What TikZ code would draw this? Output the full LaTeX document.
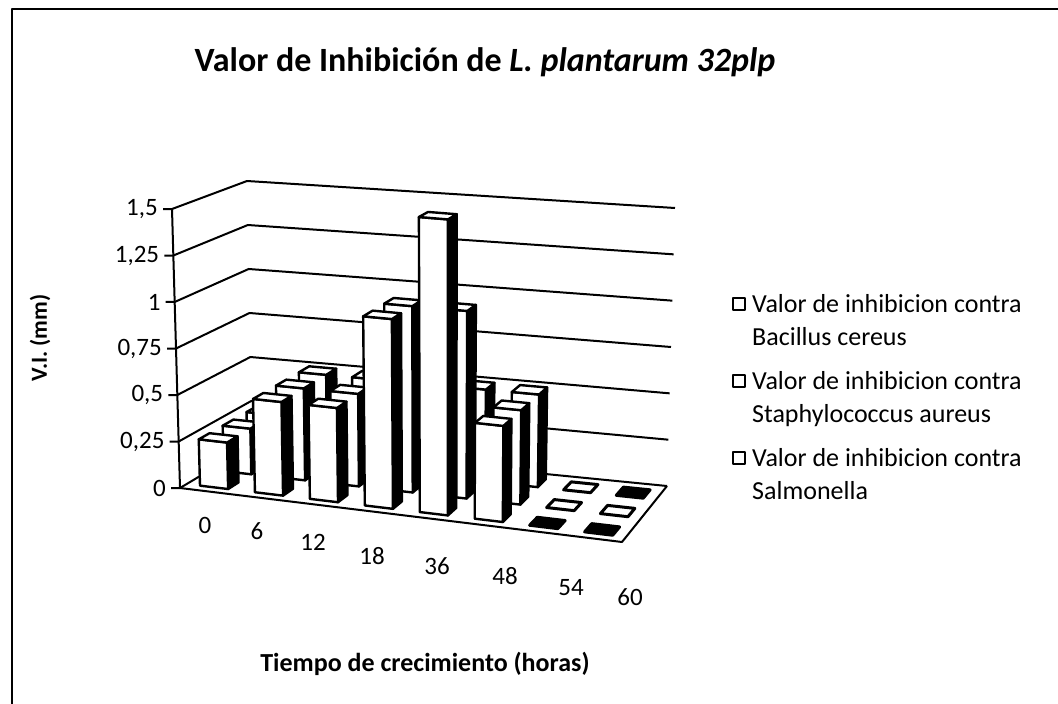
\documentclass[tikz,border=0pt]{standalone}
\usepackage{fontspec}
\setmainfont{Carlito}
\usetikzlibrary{calc}
\def\FAx{180}\def\FAy{488}
\def\FBx{622}\def\FBy{542}
\def\FCx{252}\def\FCy{445}
\def\FDx{667}\def\FDy{486}
\def\TAx{172}\def\TAy{209}
\def\TBx{627}\def\TBy{248}
\def\TCx{247}\def\TCy{181}
\def\TDx{675}\def\TDy{208}
\newcommand\mkpt[4]{%
 \pgfmathsetmacro\ptU{#2}%
 \pgfmathsetmacro\ptV{#3}%
 \pgfmathsetmacro\ptH{(#4)/1.5}%
 \pgfmathsetmacro\ptFX{(1-\ptU)*(1-\ptV)*\FAx+\ptU*(1-\ptV)*\FBx+(1-\ptU)*\ptV*\FCx+\ptU*\ptV*\FDx}%
 \pgfmathsetmacro\ptFY{(1-\ptU)*(1-\ptV)*\FAy+\ptU*(1-\ptV)*\FBy+(1-\ptU)*\ptV*\FCy+\ptU*\ptV*\FDy}%
 \pgfmathsetmacro\ptTX{(1-\ptU)*(1-\ptV)*\TAx+\ptU*(1-\ptV)*\TBx+(1-\ptU)*\ptV*\TCx+\ptU*\ptV*\TDx}%
 \pgfmathsetmacro\ptTY{(1-\ptU)*(1-\ptV)*\TAy+\ptU*(1-\ptV)*\TBy+(1-\ptU)*\ptV*\TCy+\ptU*\ptV*\TDy}%
 \pgfmathsetmacro\ptX{\ptFX+\ptH*(\ptTX-\ptFX)}%
 \pgfmathsetmacro\ptY{\ptFY+\ptH*(\ptTY-\ptFY)}%
 \coordinate (#1) at (\ptX,\ptY);%
}
\newcommand\drawbar[3]{%
 \pgfmathsetmacro\bua{#1-0.032}\pgfmathsetmacro\bub{#1+0.032}%
 \pgfmathsetmacro\bva{#2-0.075}\pgfmathsetmacro\bvb{#2+0.075}%
 \mkpt{ba}{\bua}{\bva}{0}\mkpt{bb}{\bub}{\bva}{0}%
 \mkpt{bc}{\bub}{\bva}{#3}\mkpt{bd}{\bua}{\bva}{#3}%
 \mkpt{be}{\bub}{\bvb}{0}\mkpt{bf}{\bub}{\bvb}{#3}\mkpt{bg}{\bua}{\bvb}{#3}%
 \filldraw[barside] (bb) -- (be) -- (bf) -- (bc) -- cycle;
 \filldraw[barface] (ba) -- (bb) -- (bc) -- (bd) -- cycle;
 \filldraw[barface] (bd) -- (bc) -- (bf) -- (bg) -- cycle;
}
\newcommand\flatbar[3]{%
 \pgfmathsetmacro\bua{#1-0.032}\pgfmathsetmacro\bub{#1+0.032}%
 \pgfmathsetmacro\bva{#2-0.075}\pgfmathsetmacro\bvb{#2+0.075}%
 \mkpt{ba}{\bua}{\bva}{0}\mkpt{bb}{\bub}{\bva}{0}%
 \mkpt{be}{\bub}{\bvb}{0}\mkpt{bg}{\bua}{\bvb}{0}%
 \filldraw[line width=3pt, draw=black, fill=#3] (ba) -- (bb) -- (be) -- (bg) -- cycle;
}
\begin{document}
\begin{tikzpicture}[x=1pt,y=-1pt,line join=round,
  frame/.style={line width=2.5pt},
  grid/.style={line width=2pt},
  barside/.style={line width=2.4pt,draw=black,fill=black},
  barface/.style={line width=2.4pt,draw=black,fill=white},
  ticklbl/.style={font=\fontsize{25}{30}\selectfont,anchor=east,inner sep=0pt},
  catlbl/.style={font=\fontsize{25}{30}\selectfont,inner sep=0pt},
  legtxt/.style={font=\fontsize{26}{31}\selectfont,anchor=base west,inner sep=0pt},
  legbox/.style={draw=black,line width=2.2pt,fill=white,minimum size=12pt,inner sep=0pt}]
\useasboundingbox (0,0) rectangle (1058,704);
% frame
\coordinate (fr1) at (12,704);
\coordinate (fr2) at (12,9);
\coordinate (fr3) at (1058,9);
\draw[frame] (fr1) -- (fr2) -- (fr3);
% title
\node[font=\bfseries\fontsize{34}{40}\selectfont,inner sep=0pt,anchor=base] (title) at (485,71)
  {Valor de Inhibición de \textit{L. plantarum 32plp}};
% walls and grid
\foreach \h [count=\i] in {0,0.25,0.5,0.75,1,1.25,1.5}{
  \mkpt{gl\i}{0}{0}{\h}
  \mkpt{gm\i}{0}{1}{\h}
  \mkpt{gr\i}{1}{1}{\h}
  \coordinate (gt\i) at ($(gl\i)+(-9,0)$);
  \draw[grid] (gt\i) -- (gl\i) -- (gm\i) -- (gr\i);
}
\mkpt{flB}{1}{0}{0}\mkpt{flD}{1}{1}{0}
\draw[grid] (gl1) -- (flB) -- (flD);
\draw[grid] (gl1) -- (gl7);
% tick labels
\foreach \t [count=\i] in {0,{0,25},{0,5},{0,75},1,{1,25},{1,5}}{
  \node[ticklbl] (yl\i) at ($(gt\i)+(-5,0)$) {\t};
}
% bars: back row (Salmonella)
\drawbar{0.0625}{0.8333}{0.25}
\drawbar{0.1875}{0.8333}{0.5}
\drawbar{0.3125}{0.8333}{0.5}
\drawbar{0.4375}{0.8333}{0.75}
\drawbar{0.5625}{0.8333}{0.5}
\drawbar{0.6875}{0.8333}{0.5}
\flatbar{0.8125}{0.8333}{white}
\flatbar{0.9375}{0.8333}{black}
% mid row (Staphylococcus)
\drawbar{0.0625}{0.5}{0.25}
\drawbar{0.1875}{0.5}{0.5}
\drawbar{0.3125}{0.5}{0.5}
\drawbar{0.4375}{0.5}{1.0}
\drawbar{0.5625}{0.5}{1.0}
\drawbar{0.6875}{0.5}{0.5}
\flatbar{0.8125}{0.5}{white}
\flatbar{0.9375}{0.5}{white}
% front row (Bacillus)
\drawbar{0.0625}{0.1667}{0.25}
\drawbar{0.1875}{0.1667}{0.5}
\drawbar{0.3125}{0.1667}{0.5}
\drawbar{0.4375}{0.1667}{1.0}
\drawbar{0.5625}{0.1667}{1.55}
\drawbar{0.6875}{0.1667}{0.5}
\flatbar{0.8125}{0.1667}{black}
\flatbar{0.9375}{0.1667}{black}
% category labels
\node[catlbl] (c0) at (205,525) {0};
\node[catlbl] (c6) at (257,531) {6};
\node[catlbl] (c12) at (313,542) {12};
\node[catlbl] (c18) at (372,556) {18};
\node[catlbl] (c36) at (437,566) {36};
\node[catlbl] (c48) at (505,576) {48};
\node[catlbl] (c54) at (571,588) {54};
\node[catlbl] (c60) at (630,597) {60};
% axis titles
\node[font=\bfseries\fontsize{26}{31}\selectfont,inner sep=0pt] (xt) at (425,664) {Tiempo de crecimiento (horas)};
\node[font=\bfseries\fontsize{23}{28}\selectfont,inner sep=0pt,rotate=90] (yt) at (40,338) {V.I. (mm)};
% legend
\node[legbox] (lb1) at (739,304) {};
\node[legtxt] (lt1) at (752,312) {Valor de inhibicion contra};
\node[legtxt] (lt1b) at (752,345) {Bacillus cereus};
\node[legbox] (lb2) at (739,381) {};
\node[legtxt] (lt2) at (752,389) {Valor de inhibicion contra};
\node[legtxt] (lt2b) at (752,422) {Staphylococcus aureus};
\node[legbox] (lb3) at (739,458) {};
\node[legtxt] (lt3) at (752,466) {Valor de inhibicion contra};
\node[legtxt] (lt3b) at (752,499) {Salmonella};
\end{tikzpicture}
\end{document}
